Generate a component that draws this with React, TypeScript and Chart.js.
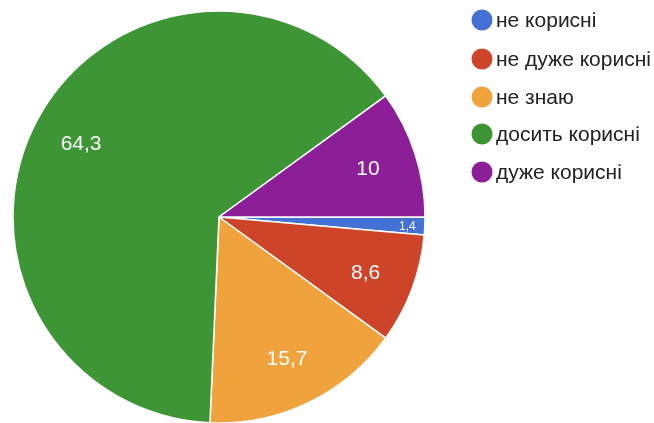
import React, { useEffect, useRef } from "react";
import { Chart, registerables } from "chart.js";

Chart.register(...registerables);

const categories = ["не корисні", "не дуже корисні", "не знаю", "досить корисні", "дуже корисні"];
const values = [1.4, 8.6, 15.7, 64.3, 10];
const valueLabels = ["1,4", "8,6", "15,7", "64,3", "10"];
const colors = ["#4471d4", "#cd4428", "#f0a23c", "#3e9535", "#8c1f97"];

const FONT = "'Liberation Sans', Arial, sans-serif";

const labelPlugin = {
  id: "sliceLabels",
  afterDatasetsDraw(chart: any) {
    const ctx = chart.ctx;
    const meta = chart.getDatasetMeta(0);
    ctx.save();
    ctx.textAlign = "center";
    ctx.textBaseline = "middle";
    ctx.fillStyle = "#ffffff";
    meta.data.forEach((arc: any, i: number) => {
      const mid = (arc.startAngle + arc.endAngle) / 2;
      const small = values[i] < 3;
      const f = small ? 0.915 : 0.76;
      const r = arc.outerRadius * f;
      const x = arc.x + Math.cos(mid) * r;
      const y = arc.y + Math.sin(mid) * r;
      ctx.font = (small ? "12px " : "21px ") + FONT;
      ctx.fillText(valueLabels[i], x, y + 1);
    });
    ctx.restore();
  },
};

const legendPlugin = {
  id: "sideLegend",
  afterDraw(chart: any) {
    const ctx = chart.ctx;
    ctx.save();
    ctx.textAlign = "left";
    ctx.textBaseline = "middle";
    const x0 = 482;
    const ys = [20, 59, 97, 134, 172];
    categories.forEach((c, i) => {
      ctx.fillStyle = colors[i];
      ctx.beginPath();
      ctx.arc(x0, ys[i], 10.5, 0, Math.PI * 2);
      ctx.fill();
      ctx.fillStyle = "#222222";
      ctx.font = "21px " + FONT;
      ctx.fillText(c, x0 + 14, ys[i] + 1);
    });
    ctx.restore();
  },
};

export default function App() {
  const ref = useRef<HTMLCanvasElement>(null);
  useEffect(() => {
    if (!ref.current) return;
    const chart = new Chart(ref.current, {
      type: "pie",
      data: {
        labels: categories,
        datasets: [
          {
            data: values,
            backgroundColor: colors,
            borderColor: "#ffffff",
            borderWidth: 1.5,
          },
        ],
      },
      options: {
        animation: false,
        responsive: false,
        rotation: 90,
        radius: 206,
        layout: { padding: { left: 13, top: 11, right: 229, bottom: 0 } },
        plugins: {
          legend: { display: false },
          tooltip: { enabled: false },
        },
      },
      plugins: [labelPlugin, legendPlugin],
    });
    return () => chart.destroy();
  }, []);
  return (
    <div style={{ position: "fixed", left: 0, top: 0, width: 654, height: 423, background: "#fff" }}>
      <canvas ref={ref} width={654} height={423} style={{ width: 654, height: 423 }} />
    </div>
  );
}
